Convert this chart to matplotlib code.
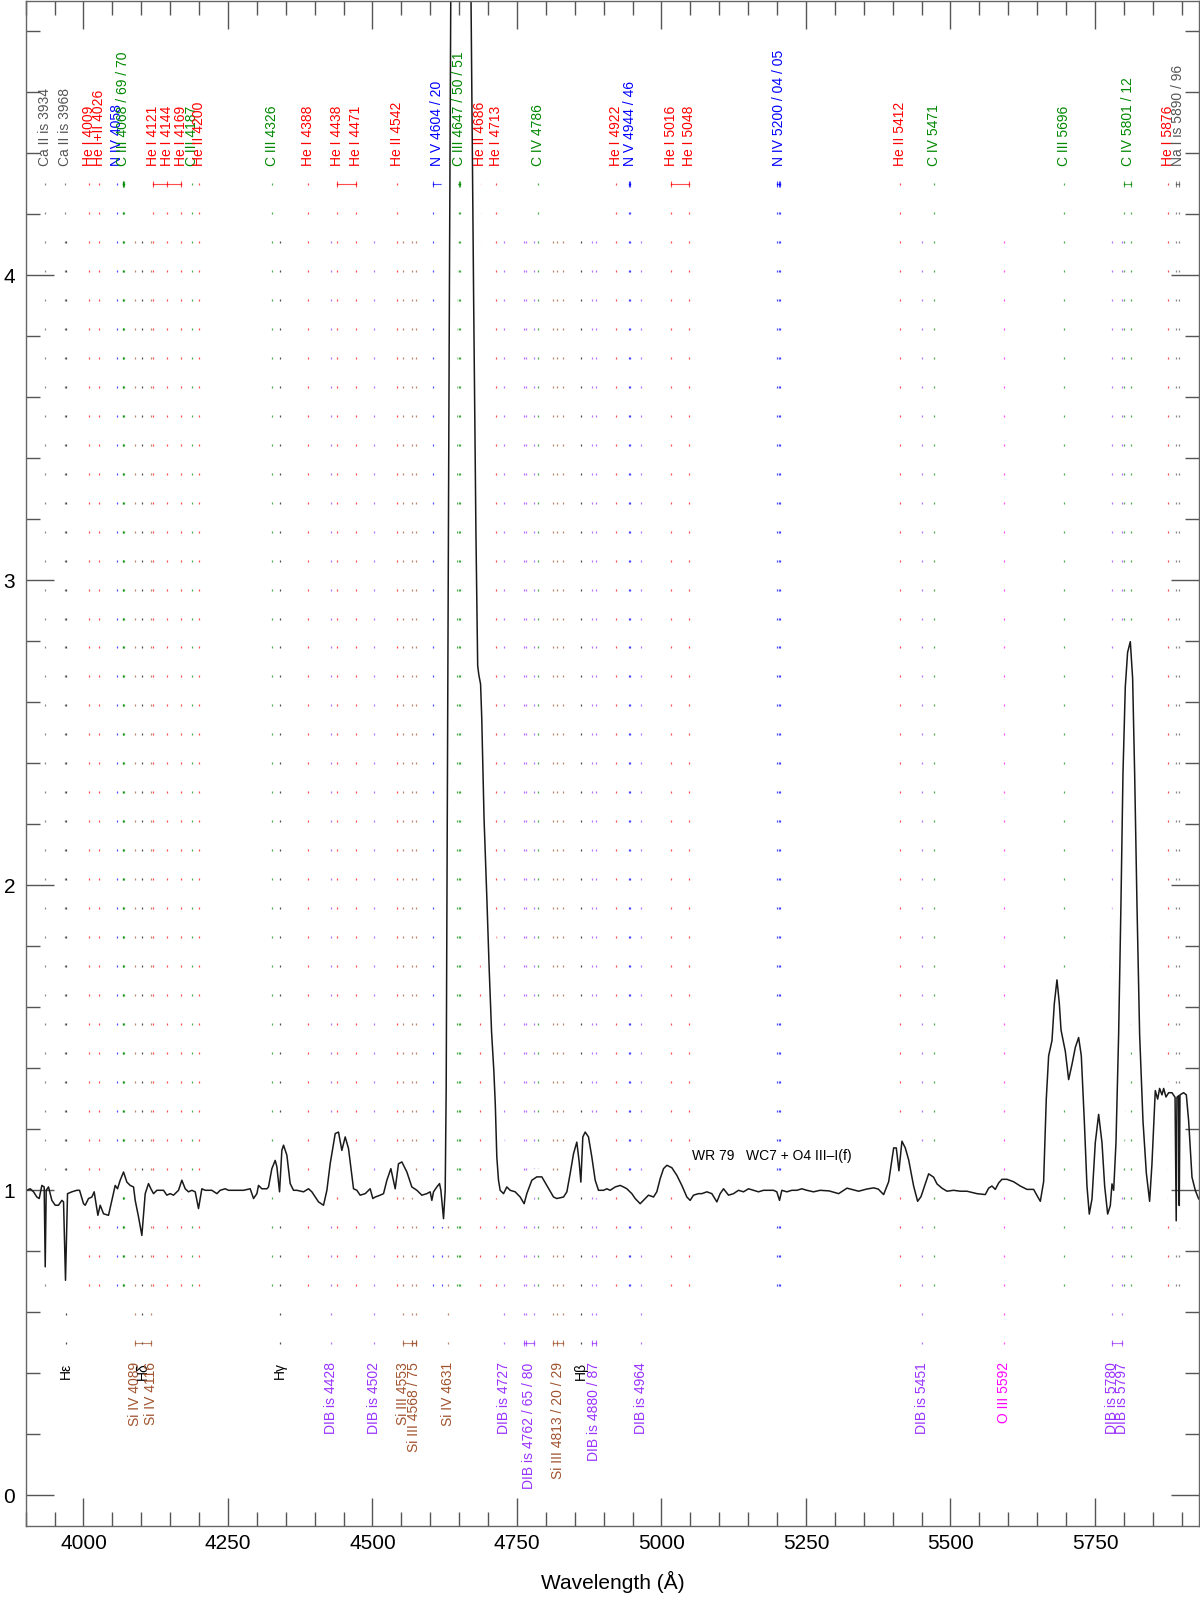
import matplotlib
matplotlib.use("Agg")
import matplotlib.pyplot as plt
from matplotlib.ticker import MultipleLocator
import numpy as np

plt.rcParams['font.family'] = ['Liberation Sans', 'DejaVu Sans']

# WR 79 rectified spectrum (wavelength in A, normalised flux)
wave = [3899.2, 3902.0, 3907.8, 3913.6, 3919.3, 3923.4, 3928.0, 3932.0, 3933.8, 3935.5,
        3939.5, 3945.3, 3951.1, 3956.8, 3962.6, 3965.5, 3968.9, 3972.4, 3979.9, 3988.5,
        3993.2, 4000.1, 4003.0, 4008.7, 4014.5, 4018.5, 4024.9, 4028.9, 4034.7, 4043.3,
        4049.1, 4054.9, 4058.9, 4063.5, 4069.3, 4075.0, 4080.8, 4086.6, 4089.5, 4095.2,
        4101.0, 4106.8, 4112.5, 4116.6, 4121.2, 4127.0, 4132.7, 4138.5, 4144.2, 4150.0,
        4155.8, 4164.4, 4170.2, 4176.0, 4181.7, 4187.5, 4193.3, 4199.0, 4204.8, 4210.6,
        4216.3, 4222.1, 4230.8, 4236.5, 4245.2, 4250.9, 4259.6, 4268.2, 4276.9, 4288.4,
        4294.2, 4300.0, 4302.8, 4308.6, 4317.3, 4320.1, 4325.9, 4331.7, 4334.6, 4339.2,
        4343.2, 4346.1, 4351.9, 4357.6, 4363.4, 4369.2, 4380.7, 4389.3, 4395.1, 4406.6,
        4415.3, 4421.1, 4426.8, 4435.5, 4441.2, 4447.0, 4452.8, 4458.5, 4467.2, 4473.0,
        4478.7, 4487.4, 4496.0, 4500.6, 4504.7, 4513.3, 4519.1, 4524.9, 4531.8, 4539.3,
        4545.0, 4550.8, 4559.5, 4568.1, 4576.8, 4585.4, 4594.0, 4599.8, 4602.7, 4605.6,
        4611.3, 4616.0, 4618.3, 4622.9, 4625.8, 4627.5, 4630.0, 4633.0, 4635.4, 4637.0,
        4642.0, 4652.0, 4662.0, 4667.0, 4670.5, 4675.0, 4679.0, 4682.0, 4684.0, 4687.0,
        4689.0, 4693.0, 4698.0, 4702.0, 4706.0, 4710.0, 4712.5, 4715.1, 4718.0, 4720.9,
        4726.7, 4732.4, 4738.2, 4746.9, 4755.5, 4762.4, 4767.0, 4775.7, 4784.3, 4793.0,
        4801.6, 4813.2, 4818.9, 4830.5, 4836.3, 4842.0, 4847.8, 4853.5, 4857.6, 4860.5,
        4863.9, 4868.0, 4873.7, 4879.5, 4885.3, 4891.0, 4899.7, 4905.5, 4911.2, 4919.9,
        4928.5, 4934.3, 4940.1, 4948.7, 4954.5, 4963.1, 4971.8, 4977.5, 4986.2, 4991.9,
        4997.7, 5003.5, 5009.3, 5017.9, 5026.6, 5035.2, 5043.9, 5049.6, 5055.4, 5064.0,
        5069.8, 5078.5, 5087.1, 5095.8, 5101.5, 5107.3, 5116.0, 5124.6, 5133.2, 5141.9,
        5150.5, 5159.2, 5167.8, 5176.5, 5185.1, 5193.8, 5199.5, 5204.2, 5208.2, 5216.9,
        5225.5, 5234.2, 5242.8, 5251.5, 5263.0, 5274.5, 5290.0, 5306.5, 5320.9, 5341.1,
        5355.0, 5367.0, 5375.0, 5384.3, 5393.0, 5401.7, 5406.2, 5410.8, 5416.0, 5421.8,
        5427.6, 5436.2, 5443.1, 5448.9, 5456.4, 5462.2, 5470.8, 5476.6, 5485.2, 5493.9,
        5505.4, 5517.0, 5528.5, 5545.8, 5560.2, 5566.0, 5571.7, 5577.5, 5583.3, 5589.0,
        5597.7, 5609.2, 5620.8, 5632.3, 5643.8, 5650.8, 5655.4, 5661.1, 5665.7, 5669.8,
        5675.6, 5679.6, 5684.2, 5688.3, 5691.2, 5698.7, 5704.4, 5710.2, 5716.0, 5721.7,
        5726.3, 5731.5, 5736.1, 5740.1, 5744.8, 5750.5, 5756.3, 5762.1, 5766.7, 5771.9,
        5776.5, 5779.4, 5782.3, 5786.3, 5790.9, 5794.9, 5798.4, 5802.4, 5806.4, 5811.1,
        5815.1, 5818.6, 5822.6, 5827.2, 5833.0, 5838.8, 5844.5, 5848.5, 5854.3, 5858.4,
        5861.8, 5865.9, 5868.8, 5872.8, 5877.4, 5883.2, 5888.5, 5890.5, 5891.8, 5894.6,
        5895.8, 5897.0, 5903.3, 5908.0, 5912.0, 5917.8, 5923.5, 5929.3]
flux = [1.005, 1.000, 1.005, 0.995, 0.978, 0.973, 1.016, 1.011, 0.749, 1.000,
        1.011, 0.967, 0.951, 0.951, 0.967, 0.962, 0.705, 0.989, 0.995, 1.000,
        1.000, 0.956, 0.951, 0.973, 0.978, 0.995, 0.918, 0.951, 0.923, 0.918,
        0.967, 1.016, 1.005, 1.033, 1.060, 1.027, 1.016, 1.011, 0.967, 0.913,
        0.852, 0.989, 1.022, 1.005, 0.989, 1.000, 1.000, 1.000, 0.984, 0.989,
        0.984, 1.000, 1.033, 1.005, 0.995, 1.000, 0.995, 0.940, 1.005, 1.000,
        1.000, 1.000, 0.989, 1.000, 1.005, 1.000, 1.000, 1.000, 1.000, 1.005,
        0.973, 0.989, 1.016, 1.005, 1.005, 1.011, 1.071, 1.098, 1.077, 0.995,
        1.131, 1.148, 1.115, 1.022, 1.000, 1.000, 0.995, 1.005, 0.995, 0.962,
        0.951, 1.000, 1.087, 1.186, 1.191, 1.131, 1.175, 1.137, 1.005, 1.000,
        0.984, 0.989, 1.005, 0.973, 0.978, 0.984, 0.989, 1.033, 1.071, 1.005,
        1.087, 1.093, 1.060, 1.011, 1.000, 0.984, 0.989, 0.995, 0.967, 0.995,
        1.011, 1.022, 1.000, 0.907, 1.000, 1.330, 2.500, 3.920, 4.900, 5.500,
        6.300, 6.800, 6.300, 5.600, 4.900, 3.920, 3.150, 2.720, 2.690, 2.660,
        2.550, 2.220, 1.950, 1.720, 1.520, 1.390, 1.280, 1.109, 1.033, 1.000,
        0.989, 1.011, 1.000, 0.995, 0.978, 0.956, 0.989, 1.033, 1.044, 1.044,
        1.016, 0.978, 0.973, 0.978, 0.995, 1.055, 1.120, 1.158, 1.093, 1.027,
        1.175, 1.191, 1.175, 1.109, 1.033, 1.000, 1.000, 1.005, 1.000, 1.011,
        1.016, 1.011, 1.005, 0.989, 0.973, 0.956, 0.973, 0.984, 0.978, 0.995,
        1.038, 1.071, 1.082, 1.074, 1.049, 1.016, 0.978, 0.967, 0.984, 0.989,
        0.989, 0.995, 0.989, 0.962, 0.989, 1.005, 0.984, 0.989, 1.000, 0.995,
        1.005, 1.000, 0.995, 1.000, 1.000, 1.000, 0.995, 0.967, 1.000, 0.995,
        1.000, 1.000, 1.005, 1.000, 0.995, 1.000, 0.998, 0.989, 1.007, 0.997,
        1.004, 1.008, 1.004, 0.986, 1.028, 1.139, 1.139, 1.064, 1.161, 1.139,
        1.100, 1.014, 0.964, 0.979, 1.021, 1.054, 1.043, 1.021, 1.007, 0.997,
        1.000, 0.997, 0.997, 0.989, 0.986, 1.007, 1.014, 1.003, 1.024, 1.036,
        1.036, 1.028, 1.014, 1.003, 1.003, 0.979, 0.964, 1.028, 1.299, 1.441,
        1.491, 1.612, 1.690, 1.612, 1.526, 1.455, 1.363, 1.413, 1.469, 1.501,
        1.441, 1.228, 1.014, 0.922, 0.972, 1.156, 1.249, 1.156, 1.014, 0.922,
        0.950, 1.021, 1.000, 1.156, 1.512, 1.939, 2.366, 2.650, 2.764, 2.799,
        2.679, 2.366, 1.939, 1.512, 1.228, 1.057, 0.964, 1.085, 1.327, 1.299,
        1.334, 1.313, 1.334, 1.306, 1.320, 1.320, 1.305, 0.900, 1.305, 1.310,
        0.950, 1.313, 1.320, 1.313, 1.228, 1.043, 1.000, 0.972]

# identifications written above the spectrum
top_names = ['Ca II is 3934', 'Ca II is 3968', 'He I 4009', 'He I+II 4026', 'N IV 4058',
             'C III 4068 / 69 / 70', 'He I 4121', 'He I 4144', 'He I 4169', 'C III 4187',
             'He II 4200', 'C III 4326', 'He I 4388', 'He I 4438', 'He I 4471',
             'He II 4542', 'N V 4604 / 20', 'C III 4647 / 50 / 51', 'He II 4686', 'He I 4713',
             'C IV 4786', 'He I 4922', 'N V 4944 / 46', 'He I 5016', 'He I 5048',
             'N IV 5200 / 04 / 05', 'He II 5412', 'C IV 5471', 'C III 5696', 'C IV 5801 / 12',
             'He I 5876', 'Na I is 5890 / 96']
top_waves = [[3934], [3968], [4009], [4026], [4058],
             [4068, 4069, 4070], [4121], [4144], [4169], [4187],
             [4200], [4326], [4388], [4438], [4471],
             [4542], [4604, 4620], [4647, 4650, 4651], [4686], [4713],
             [4786], [4922], [4944, 4946], [5016], [5048],
             [5200, 5204, 5205], [5412], [5471], [5696], [5801, 5812],
             [5876], [5890, 5896]]
top_colors = ['#555555', '#555555', 'red', 'red', 'blue',
              '#008800', 'red', 'red', 'red', '#008800',
              'red', '#008800', 'red', 'red', 'red',
              'red', 'blue', '#008800', 'red', 'red',
              '#008800', 'red', 'blue', 'red', 'red',
              'blue', 'red', '#008800', '#008800', '#008800',
              'red', '#555555']

# identifications written below the spectrum
bot_names = ['H\u03b5', 'Si IV 4089', 'H\u03b4', 'Si IV 4116', 'H\u03b3',
             'DIB is 4428', 'DIB is 4502', 'Si III 4553', 'Si III 4568 / 75', 'Si IV 4631',
             'DIB is 4727', 'DIB is 4762 / 65 / 80', 'Si III 4813 / 20 / 29', 'H\u03b2',
             'DIB is 4880 / 87', 'DIB is 4964', 'DIB is 5451', 'O III 5592',
             'DIB is 5780', 'DIB is 5797']
bot_waves = [[3970], [4089], [4102], [4116], [4340],
             [4428], [4502], [4553], [4568, 4575], [4631],
             [4727], [4762, 4765, 4780], [4813, 4820, 4829], [4861],
             [4880, 4887], [4964], [5451], [5592],
             [5780], [5797]]
bot_colors = ['black', '#a0522d', 'black', '#a0522d', 'black',
              '#9932ff', '#9932ff', '#a0522d', '#a0522d', '#a0522d',
              '#9932ff', '#9932ff', '#a0522d', 'black',
              '#9932ff', '#9932ff', '#9932ff', '#ff00ff',
              '#9932ff', '#9932ff']

# separate identifications tied together by a bar
top_links = [[4121, 4144, 4169], [4438, 4471], [5016, 5048]]
top_link_colors = ['red', 'red', 'red']
bot_links = [[4089, 4116], [4553, 4568, 4575], [5780, 5797]]
bot_link_colors = ['#a0522d', '#a0522d', '#9932ff']

fig = plt.figure(figsize=(12, 16.01), dpi=100)
ax = fig.add_axes([0.0214, 0.047, 0.9778, 0.9524])

rows = 0.50 + 0.095 * np.arange(41)
top_rows = rows[2:]
bot_rows = rows[:-2]

def draw_ids(names, waves, colors, rws, text_y, va, bar_y):
    for name, ws, c in zip(names, waves, colors):
        for w in ws:
            ax.plot([w] * len(rws), rws, ls='', marker='|', ms=1.6, mew=0.9,
                    color=c, alpha=0.7, zorder=1)
        if len(ws) > 1:
            ax.plot(ws, [bar_y] * len(ws), '-', marker='|', ms=4, mew=0.8, lw=0.8,
                    color=c, alpha=0.7, zorder=1)
        xc = 0.5 * (min(ws) + max(ws))
        ax.text(xc, text_y, name, rotation=90, ha='center', va=va, color=c,
                fontsize=10, zorder=4)

draw_ids(top_names, top_waves, top_colors, top_rows, 4.36, 'bottom', top_rows[-1])
draw_ids(bot_names, bot_waves, bot_colors, bot_rows, 0.436, 'top', bot_rows[0])

for ws, c in zip(top_links, top_link_colors):
    ax.plot(ws, [top_rows[-1]] * len(ws), '-', marker='|', ms=4, mew=0.8, lw=0.8,
            color=c, alpha=0.7, zorder=1)
for ws, c in zip(bot_links, bot_link_colors):
    ax.plot(ws, [bot_rows[0]] * len(ws), '-', marker='|', ms=4, mew=0.8, lw=0.8,
            color=c, alpha=0.7, zorder=1)

# white band under the spectrum hides the id dots it passes through
ax.plot(wave, flux, color='white', lw=12, solid_joinstyle='round',
        solid_capstyle='round', zorder=1.5)
ax.plot(wave, flux, color='#1a1a1a', lw=1.1, zorder=2)

ax.text(5052, 1.098, 'WR 79   WC7 + O4 III\u2013I(f)', fontsize=10, ha='left',
        va='baseline', zorder=4)

ax.set_xlim(3900, 5930)
ax.set_ylim(-0.1, 4.9)
ax.xaxis.set_major_locator(MultipleLocator(250))
ax.xaxis.set_minor_locator(MultipleLocator(50))
ax.yaxis.set_major_locator(MultipleLocator(1))
ax.yaxis.set_minor_locator(MultipleLocator(0.2))
ax.tick_params(which='both', direction='in', top=True, right=True,
               color='#555555', width=1.0, labelsize=15)
ax.tick_params(which='major', length=20)
ax.tick_params(which='minor', length=10)
ax.tick_params(axis='x', pad=6)
ax.tick_params(axis='y', pad=7.5)
for s in ax.spines.values():
    s.set_color('#666666')
    s.set_linewidth(1.0)
ax.set_xlabel('Wavelength (\u00c5)', fontsize=15, labelpad=13)

fig.savefig('out.png', dpi=100)
